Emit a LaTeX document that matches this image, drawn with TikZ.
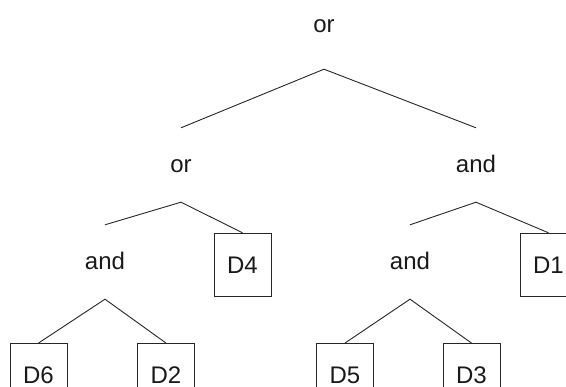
\documentclass[tikz,border=0pt]{standalone}
\usepackage{fontspec}
\setmainfont{Liberation Sans}
\begin{document}
\begin{tikzpicture}[
  every node/.style={font=\fontsize{24}{28}\selectfont, text=black!90},
  op/.style={anchor=base, inner sep=0pt, text height=45pt, text depth=29pt},
  leaf/.style={draw=black!85, line width=0.9pt, minimum width=57pt, minimum height=63pt, inner sep=0pt},
  edge/.style={draw=black!85, line width=0.9pt}
]
\useasboundingbox (0,0) rectangle (566pt,-387pt);
\clip (0,0) rectangle (566pt,-387pt);
% operator nodes
\node[op, text depth=36.5pt] (root) at (324pt,-32.5pt) {or};
\node[op] (orL) at (181pt,-173pt) {or};
\node[op] (andR) at (476pt,-173pt) {and};
\node[op] (andL2) at (105pt,-270pt) {and};
\node[op] (andR2) at (410pt,-270pt) {and};
% leaves
\node[leaf] (d4) at (242.5pt,-264.75pt) {D4};
\node[leaf] (d1) at (548.5pt,-264.75pt) {D1};
\node[leaf] (d6) at (38.5pt,-375pt) {D6};
\node[leaf] (d2) at (166pt,-375pt) {D2};
\node[leaf] (d5) at (345pt,-375pt) {D5};
\node[leaf] (d3) at (471.5pt,-375pt) {D3};
% connectors
\draw[edge] (orL.north) -- (root.south) -- (andR.north);
\draw[edge] (andL2.north) -- (orL.south) -- (d4.north);
\draw[edge] (andR2.north) -- (andR.south) -- (d1.north);
\draw[edge] (d6.north) -- (andL2.south) -- (d2.north);
\draw[edge] (d5.north) -- (andR2.south) -- (d3.north);
\end{tikzpicture}
\end{document}
